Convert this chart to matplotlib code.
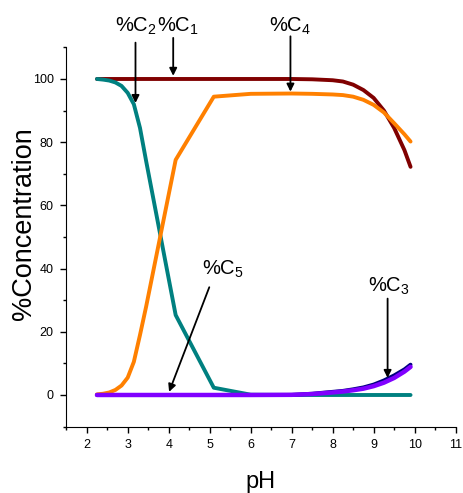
import matplotlib
matplotlib.use("Agg")
import matplotlib.pyplot as plt
from matplotlib.ticker import MultipleLocator

plt.rcParams['font.family'] = ['Liberation Sans', 'DejaVu Sans']
plt.rcParams['mathtext.fontset'] = 'custom'
plt.rcParams['mathtext.rm'] = 'Liberation Sans'
plt.rcParams['mathtext.it'] = 'Liberation Sans'

# pH sampling
ph = [2.25, 2.4, 2.55, 2.7, 2.85, 3.0, 3.15, 3.3, 3.45, 4.17, 5.1, 6.0, 7.0,
      7.5, 8.0, 8.25, 8.5, 8.75, 9.0, 9.25, 9.5, 9.75, 9.9]

c1 = [100, 100, 100, 100, 100, 100, 100, 100, 100, 100, 100, 100, 100,
      99.9, 99.6, 99.2, 98.2, 96.5, 94.0, 90.0, 84.5, 77.5, 72.2]
c2 = [100, 99.8, 99.5, 98.9, 97.8, 95.6, 92.0, 84.5, 74.0, 25.3, 2.3, 0.1, 0,
      0, 0, 0, 0, 0, 0, 0, 0, 0, 0]
c3 = [0, 0, 0, 0, 0, 0, 0, 0, 0, 0, 0, 0, 0.05,
      0.4, 1.0, 1.3, 1.8, 2.4, 3.3, 4.6, 6.2, 8.1, 9.6]
c4 = [0.2, 0.4, 0.8, 1.6, 3.0, 5.5, 10.5, 19.0, 28.0, 74.4, 94.4, 95.3, 95.4,
      95.3, 95.1, 94.9, 94.4, 93.4, 91.8, 89.4, 86.0, 82.5, 80.2]
c5 = [0, 0, 0, 0, 0, 0, 0, 0, 0, 0, 0, 0, 0.05,
      0.3, 0.8, 1.1, 1.5, 2.0, 2.8, 3.9, 5.4, 7.4, 8.9]

labels = ["%C$_1$", "%C$_2$", "%C$_3$", "%C$_4$", "%C$_5$"]

fig = plt.figure(figsize=(4.64, 4.93), dpi=100)
ax = fig.add_axes([0.1427, 0.1347, 0.982 - 0.1427, 0.9039 - 0.1347])

kw = dict(solid_capstyle='round', solid_joinstyle='round')
ax.plot(ph, c1, color='#800000', lw=2.8, **kw)
ax.plot(ph, c2, color='#008080', lw=2.8, **kw)
ax.plot(ph, c4, color='#FF8000', lw=2.8, **kw)
ax.plot(ph, c3, color='#000080', lw=2.8, **kw)
ax.plot(ph, c5, color='#8000FF', lw=3.2, **kw)

ax.set_xlim(1.5, 11)
ax.set_ylim(-10, 110)
ax.xaxis.set_minor_locator(MultipleLocator(0.5))
ax.yaxis.set_minor_locator(MultipleLocator(10))
ax.set_xticks(range(2, 12))
ax.set_yticks(range(0, 101, 20))
ax.tick_params(which='major', direction='out', length=4, width=1, labelsize=9, pad=5)
ax.tick_params(which='minor', direction='out', length=2.5, width=1)
for s in ['top', 'right']:
    ax.spines[s].set_visible(False)

ax.set_xlabel("pH", fontsize=17, labelpad=14)
ax.set_ylabel("%Concentration", fontsize=19.5)
ax.yaxis.set_label_coords(-0.075, 0.536)


def px2x(px):
    return 1.5 + (px - 66.2) / 41.0


txt = [(157.3, 114.9, 0), (115.0, 114.9, 1), (368.0, 32.7, 2),
       (269.0, 114.9, 3), (201.7, 38.0, 4)]
for pxl, y, i in txt:
    ax.text(px2x(pxl), y, labels[i], fontsize=14.5, ha='left', va='baseline',
            clip_on=False)

arrows = [((4.11, 113.0), (4.11, 101.0)),
          ((3.19, 111.5), (3.19, 92.4)),
          ((9.34, 30.5), (9.34, 5.4)),
          ((6.97, 113.5), (6.97, 96.0)),
          ((4.99, 34.1), (4.01, 1.0))]
for (x0, y0), (x1, y1) in arrows:
    ax.annotate('', xy=(x1, y1), xytext=(x0, y0), annotation_clip=False,
                arrowprops=dict(arrowstyle='-|>', color='black', lw=1.3,
                                mutation_scale=11, shrinkA=0, shrinkB=0))

fig.savefig("out.png", dpi=100)
